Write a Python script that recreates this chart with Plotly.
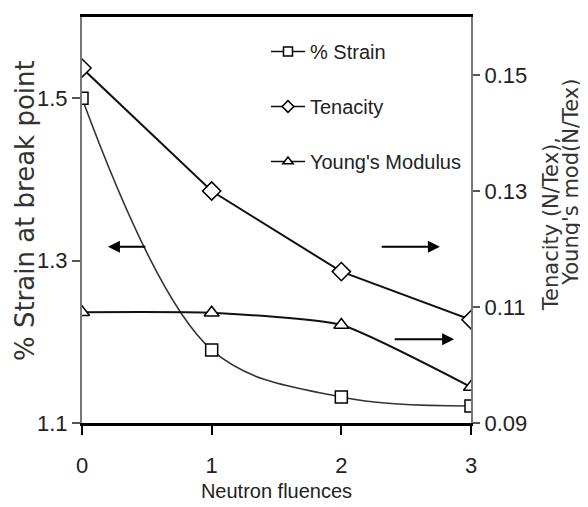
import plotly.graph_objects as go

fluence = [0, 1, 2, 3]
strain = [1.50, 1.19, 1.132, 1.121]
tenacity = [0.1512, 0.130, 0.1161, 0.1078]
youngs = [0.1091, 0.1090, 0.1069, 0.0962]

x_ticks = [0, 1, 2, 3]
y_left_ticks = [1.1, 1.3, 1.5]
y_right_ticks = [0.09, 0.11, 0.13, 0.15]

FONT = "Liberation Sans, Arial, sans-serif"
mk = dict(color="white", line=dict(color="black", width=1.5))

fig = go.Figure()
fig.add_trace(go.Scatter(
    x=fluence, y=strain, name="% Strain", yaxis="y", showlegend=False,
    mode="lines+markers", line=dict(color="#333", width=1.6, shape="spline", smoothing=1.0),
    marker=dict(symbol="square", size=12, **mk)))
fig.add_trace(go.Scatter(
    x=fluence, y=tenacity, name="Tenacity", yaxis="y2", showlegend=False,
    mode="lines+markers", line=dict(color="#111", width=2),
    marker=dict(symbol="diamond", size=14, **mk)))
fig.add_trace(go.Scatter(
    x=fluence, y=youngs, name="Young's Modulus", yaxis="y2", showlegend=False,
    mode="lines+markers", line=dict(color="#111", width=2, shape="spline", smoothing=0.5),
    marker=dict(symbol="triangle-up", size=13, **mk)))

# legend entries (smaller symbols, as in the reference legend)
for name, sym, grp in [("% Strain", "square", "a"), ("Tenacity", "diamond", "b"),
                       ("Young's Modulus", "triangle-up", "c")]:
    fig.add_trace(go.Scatter(x=[None], y=[None], name=name, mode="lines+markers",
                             line=dict(color="#111", width=1.5),
                             marker=dict(symbol=sym, size=9, **mk), legendgroup=grp))

fig.update_layout(
    width=580, height=499,
    margin=dict(l=74, r=117, t=9, b=84, autoexpand=False),
    paper_bgcolor="white", plot_bgcolor="white",
    font=dict(family=FONT, size=20, color="#222"),
    showlegend=True,
    legend=dict(x=0.473, y=0.963, xanchor="left", yanchor="top",
                bgcolor="rgba(0,0,0,0)", font=dict(size=20, family=FONT),
                tracegroupgap=26, traceorder="grouped", itemwidth=34),
    xaxis=dict(range=[0, 3], tickvals=x_ticks, ticks="outside", ticklen=9, tickwidth=1.5,
               tickcolor="black", showline=True, linecolor="black", linewidth=2.5,
               mirror=True, showgrid=False, zeroline=False, ticklabelstandoff=12,
               tickfont=dict(size=22),
               title=dict(text="Neutron fluences", font=dict(size=20), standoff=7)),
    yaxis=dict(range=[1.1, 1.6], tickvals=y_left_ticks, ticktext=["1.1", "1.3", "1.5"],
               ticks="outside", ticklen=8, tickwidth=1.5, tickcolor="#555",
               showline=True, linecolor="#777", linewidth=2, showgrid=False, zeroline=False,
               tickfont=dict(size=22)),
    yaxis2=dict(range=[0.09, 0.16], tickvals=y_right_ticks,
                ticktext=["0.09", "0.11", "0.13", "0.15"],
                overlaying="y", side="right", ticks="outside", ticklen=7, tickwidth=1.5,
                tickcolor="#555", showline=True, linecolor="#777", linewidth=2,
                showgrid=False, zeroline=False, tickfont=dict(size=22)),
)

TFONT = dict(family="DejaVu Sans, sans-serif", size=26, color="#333")
RFONT = dict(family="DejaVu Sans, sans-serif", size=21, color="#333")
fig.add_annotation(text="% Strain at break point", xref="paper", yref="paper",
                   x=-0.1465, y=0.522, textangle=-90, showarrow=False, font=TFONT,
                   xanchor="center", yanchor="middle")
fig.add_annotation(text="Tenacity (N/Tex),", xref="paper", yref="paper",
                   x=1.206, y=0.49, textangle=-90, showarrow=False, font=RFONT,
                   xanchor="center", yanchor="middle")
fig.add_annotation(text="Young's mod(N/Tex)", xref="paper", yref="paper",
                   x=1.257, y=0.594, textangle=-90, showarrow=False, font=RFONT,
                   xanchor="center", yanchor="middle")

# direction arrows
arrows = [
    dict(x=0.20, y=1.317, ax=0.50, ay=1.317),
    dict(x=2.76, y=1.317, ax=2.30, ay=1.317),
    dict(x=2.87, y=1.203, ax=2.40, ay=1.203),
]
for a in arrows:
    fig.add_annotation(x=a["x"], y=a["y"], ax=a["ax"], ay=a["ay"], xref="x", yref="y",
                       axref="x", ayref="y", text="", showarrow=True, arrowhead=2,
                       arrowsize=1.2, arrowwidth=2, arrowcolor="black")

fig.write_html("out.html")
